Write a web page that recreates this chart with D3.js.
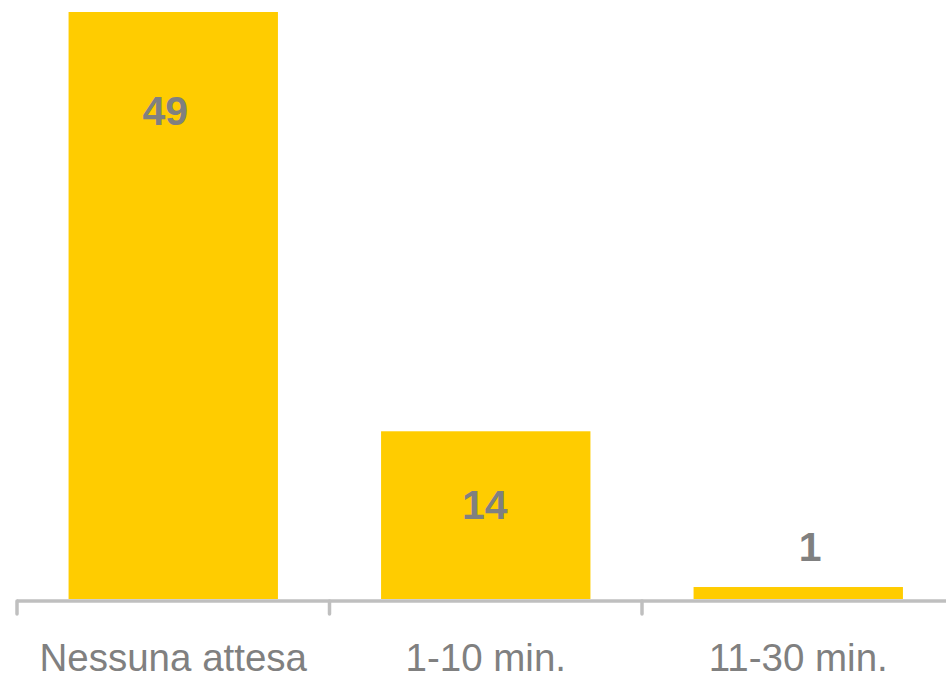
<!DOCTYPE html>
<html>
    <head>
        <meta charset="utf-8">
        <title>Attesa</title>
        <script src="https://d3js.org/d3.v7.min.js"></script>
        <style>
            body { margin: 0; background: #fff; }
            .bar { fill: #FFCC00; }
            text { font-family: "Liberation Sans", Arial, sans-serif; fill: #808080; }
        </style>
    </head>
    <body>
        <svg width="946" height="679"></svg>
        <script>
            var categories = ["Nessuna attesa", "1-10 min.", "11-30 min."];
            var values = [49, 14, 1];

            // where each value label sits relative to the bar top / centre
            var labelDy = [113, 88, -26];
            var labelDx = [-8, -1, 12];

            var svg = d3.select("svg"),
                baseY = 599,
                topY = 12;

            var xScale = d3.scaleBand()
                .domain(categories)
                .range([17, 954.5])
                .paddingInner(0.33)
                .paddingOuter(0.165);

            var yScale = d3.scaleLinear()
                .domain([0, d3.max(values)])
                .range([baseY, topY]);

            var data = categories.map(function(c, i) { return { cat: c, value: values[i], i: i }; });

            svg.selectAll(".bar")
                .data(data)
                .enter().append("rect")
                .attr("class", "bar")
                .attr("x", function(d) { return xScale(d.cat); })
                .attr("y", function(d) { return yScale(d.value); })
                .attr("width", xScale.bandwidth())
                .attr("height", function(d) { return baseY - yScale(d.value); });

            // axis line and tick marks at band boundaries
            var step = xScale.step();
            var bounds = categories.map(function(c) { return xScale(c) - step * xScale.paddingInner() / 2; });

            svg.append("line")
                .attr("x1", bounds[0])
                .attr("x2", 946)
                .attr("y1", baseY + 2)
                .attr("y2", baseY + 2)
                .attr("stroke", "#BFBFBF")
                .attr("stroke-width", 3.5);

            svg.selectAll(".tick")
                .data(bounds)
                .enter().append("line")
                .attr("class", "tick")
                .attr("x1", function(d) { return d; })
                .attr("x2", function(d) { return d; })
                .attr("y1", baseY + 2)
                .attr("y2", 614)
                .attr("stroke", "#BFBFBF")
                .attr("stroke-width", 3.5)
                .attr("stroke-linecap", "round");

            svg.selectAll(".cat")
                .data(data)
                .enter().append("text")
                .attr("class", "cat")
                .attr("x", function(d) { return xScale(d.cat) + xScale.bandwidth() / 2; })
                .attr("y", 671)
                .attr("text-anchor", "middle")
                .attr("font-size", "38.5px")
                .text(function(d) { return d.cat; });

            svg.selectAll(".val")
                .data(data)
                .enter().append("text")
                .attr("class", "val")
                .attr("x", function(d) { return xScale(d.cat) + xScale.bandwidth() / 2 + labelDx[d.i]; })
                .attr("y", function(d) { return yScale(d.value) + labelDy[d.i]; })
                .attr("text-anchor", "middle")
                .attr("font-size", "41px")
                .attr("font-weight", "bold")
                .text(function(d) { return d.value; });
        </script>
    </body>
</html>
